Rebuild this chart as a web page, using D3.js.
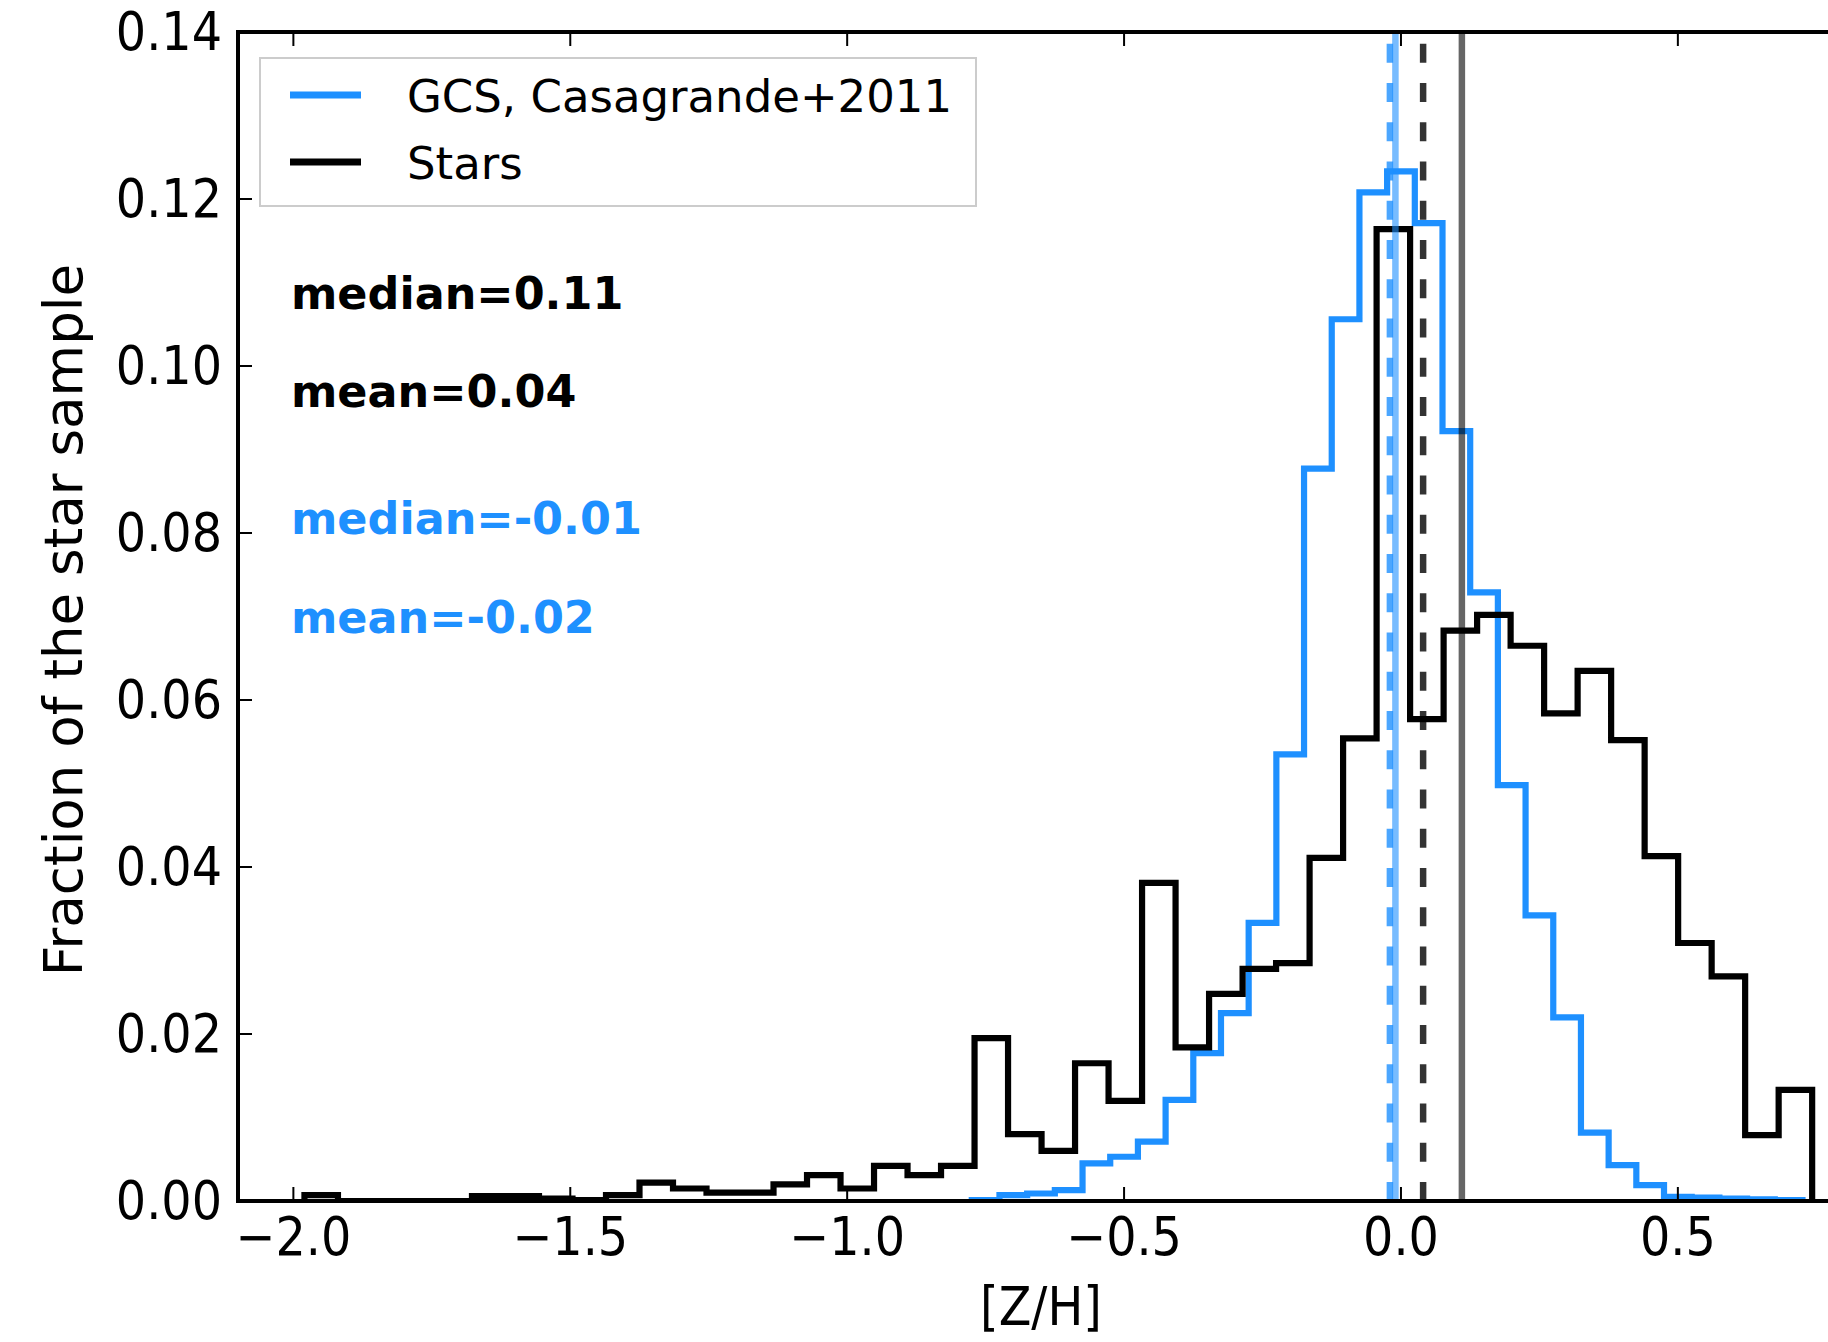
<!DOCTYPE html>
<html>
<head>
<meta charset="utf-8">
<script src="https://cdn.jsdelivr.net/npm/d3@7/dist/d3.min.js"></script>
<style>
  html, body { margin: 0; padding: 0; background: #fff; }
  svg { display: block; }
  .cond { font-family: 'DejaVu Sans Condensed', 'DejaVu Sans', sans-serif; font-stretch: condensed; }
</style>
</head>
<body>
<svg id="chart" width="1828" height="1342"></svg>
<script>
// ---------------- data ----------------
const starsEdges = [-1.980, -1.9195, -1.859, -1.7985, -1.738, -1.6775, -1.617, -1.5565, -1.496, -1.4355,
  -1.375, -1.3145, -1.254, -1.1935, -1.133, -1.0725, -1.012, -0.9515, -0.891, -0.8305,
  -0.770, -0.7095, -0.649, -0.5885, -0.528, -0.4675, -0.407, -0.3465, -0.286, -0.2255,
  -0.165, -0.1045, -0.044, 0.0165, 0.077, 0.1375, 0.198, 0.2585, 0.319, 0.3795,
  0.440, 0.5005, 0.561, 0.6215, 0.682, 0.7425];
const starsFrac = [0.0007, 0, 0, 0, 0, 0.0006, 0.0006, 0.0003, 0.0001, 0.0007,
  0.0022, 0.0015, 0.0010, 0.0010, 0.0020, 0.0031, 0.0015, 0.0042, 0.0031, 0.0042,
  0.0195, 0.0080, 0.0060, 0.0165, 0.0120, 0.0381, 0.0184, 0.0248, 0.0278, 0.0285,
  0.0411, 0.0554, 0.1164, 0.0577, 0.0683, 0.0702, 0.0665, 0.0584, 0.0635, 0.0552,
  0.0413, 0.0309, 0.0269, 0.0079, 0.0133];

const gcsEdges = [-0.775, -0.725, -0.675, -0.625, -0.575, -0.525, -0.475, -0.425, -0.375, -0.325,
  -0.275, -0.225, -0.175, -0.125, -0.075, -0.025, 0.025, 0.075, 0.125, 0.175,
  0.225, 0.275, 0.325, 0.375, 0.425, 0.475, 0.525, 0.575, 0.625, 0.675, 0.725];
const gcsFrac = [0.0001, 0.0007, 0.0009, 0.0013, 0.0045, 0.0053, 0.0071, 0.0121, 0.0177, 0.0225,
  0.0333, 0.0535, 0.0877, 0.1056, 0.1208, 0.1233, 0.1171, 0.0922, 0.0729, 0.0498,
  0.0342, 0.0220, 0.0082, 0.0043, 0.0019, 0.0005, 0.0004, 0.0003, 0.0002, 0.0001];

const starsStats = { median: 0.11, mean: 0.04 };
const gcsStats = { median: -0.01, mean: -0.02 };

const xTicks = [-2.0, -1.5, -1.0, -0.5, 0.0, 0.5];
const yTicks = [0.00, 0.02, 0.04, 0.06, 0.08, 0.10, 0.12, 0.14];

const legendLabels = ["GCS, Casagrande+2011", "Stars"];
const annotations = [
  { text: "median=0.11", color: "#000000" },
  { text: "mean=0.04", color: "#000000" },
  { text: "median=-0.01", color: "#1E90FF" },
  { text: "mean=-0.02", color: "#1E90FF" }
];

(function () {
// ---------------- layout ----------------
const BLUE = "#1E90FF";
const pLeft = 238, pTop = 32, pBottom = 1201, pRight = 1844;
const svg = d3.select("#chart");
svg.append("rect").attr("width", 1828).attr("height", 1342).attr("fill", "#fff");

const x = d3.scaleLinear().domain([-2.1, 0.8]).range([pLeft, pRight]);
const y = d3.scaleLinear().domain([0, 0.14]).range([pBottom, pTop]);

svg.append("defs").append("clipPath").attr("id", "plotclip")
  .append("rect").attr("x", pLeft).attr("y", pTop).attr("width", pRight - pLeft).attr("height", pBottom - pTop);

const plot = svg.append("g").attr("clip-path", "url(#plotclip)");

function stepPoints(edges, vals) {
  const pts = [[edges[0], 0]];
  vals.forEach((v, i) => { pts.push([edges[i], v]); pts.push([edges[i + 1], v]); });
  pts.push([edges[edges.length - 1], 0]);
  return pts;
}
const line = d3.line().x(d => x(d[0])).y(d => y(d[1]));

plot.append("path").attr("d", line(stepPoints(gcsEdges, gcsFrac)))
  .attr("fill", "none").attr("stroke", BLUE).attr("stroke-width", 6.2).attr("stroke-linejoin", "miter");
plot.append("path").attr("d", line(stepPoints(starsEdges, starsFrac)))
  .attr("fill", "none").attr("stroke", "#000").attr("stroke-width", 6.2).attr("stroke-linejoin", "miter");

// vertical statistic lines (drawn from bottom to top)
function vline(v, color, opacity, dashed) {
  const l = plot.append("line")
    .attr("x1", x(v)).attr("x2", x(v)).attr("y1", pBottom).attr("y2", pTop)
    .attr("stroke", color).attr("stroke-opacity", opacity).attr("stroke-width", 6.5);
  if (dashed) l.attr("stroke-dasharray", "19,20.25");
}
vline(gcsStats.median, BLUE, 0.6, false);
vline(gcsStats.mean, BLUE, 0.8, true);
vline(starsStats.mean, "#000", 0.8, true);
vline(starsStats.median, "#000", 0.6, false);

// ---------------- axes ----------------
const tickLen = 14;
const axes = svg.append("g");
xTicks.forEach(t => {
  axes.append("line").attr("x1", x(t)).attr("x2", x(t)).attr("y1", pBottom).attr("y2", pBottom - tickLen)
    .attr("stroke", "#000").attr("stroke-width", 2);
  axes.append("line").attr("x1", x(t)).attr("x2", x(t)).attr("y1", pTop).attr("y2", pTop + tickLen)
    .attr("stroke", "#000").attr("stroke-width", 2);
  axes.append("text").attr("class", "cond").attr("x", x(t)).attr("y", pBottom + 54)
    .attr("text-anchor", "middle").attr("font-size", 53).attr("fill", "#000")
    .text(d3.format(".1f")(t).replace("-", "\u2212"));
});
yTicks.forEach(t => {
  axes.append("line").attr("x1", pLeft).attr("x2", pLeft + tickLen).attr("y1", y(t)).attr("y2", y(t))
    .attr("stroke", "#000").attr("stroke-width", 2);
  axes.append("text").attr("class", "cond").attr("x", 222).attr("y", y(t) + 18)
    .attr("text-anchor", "end").attr("font-size", 53).attr("fill", "#000")
    .text(d3.format(".2f")(t));
});
axes.append("path")
  .attr("d", `M${pRight},${pTop} L${pLeft},${pTop} L${pLeft},${pBottom} L${pRight},${pBottom}`)
  .attr("fill", "none").attr("stroke", "#000").attr("stroke-width", 4).attr("stroke-linecap", "square");

// axis labels
svg.append("text").attr("class", "cond").attr("x", (pLeft + pRight) / 2).attr("y", 1325)
  .attr("text-anchor", "middle").attr("font-size", 53).attr("fill", "#000").text("[Z/H]");
svg.append("text").attr("transform", "translate(82,620) rotate(-90)")
  .attr("text-anchor", "middle").attr("font-family", "'DejaVu Sans', sans-serif")
  .attr("font-size", 53).attr("fill", "#000").text("Fraction of the star sample");

// ---------------- legend ----------------
const lg = svg.append("g");
lg.append("rect").attr("x", 260).attr("y", 58).attr("width", 716).attr("height", 148)
  .attr("fill", "#fff").attr("stroke", "#cccccc").attr("stroke-width", 2);
const legendColors = [BLUE, "#000"];
const legendY = [95, 162];
legendLabels.forEach((lab, i) => {
  lg.append("line").attr("x1", 290).attr("x2", 361).attr("y1", legendY[i]).attr("y2", legendY[i])
    .attr("stroke", legendColors[i]).attr("stroke-width", 7);
  lg.append("text").attr("x", 407).attr("y", legendY[i] + 17)
    .attr("font-family", "'DejaVu Sans', sans-serif").attr("font-size", 45).attr("fill", "#000").text(lab);
});

// ---------------- annotations ----------------
const annY = [309, 407, 534, 633];
annotations.forEach((a, i) => {
  svg.append("text").attr("x", 291).attr("y", annY[i])
    .attr("font-family", "'DejaVu Sans', sans-serif").attr("font-weight", "bold")
    .attr("font-size", 44.5).attr("fill", a.color).text(a.text);
});
})();
</script>
</body>
</html>
